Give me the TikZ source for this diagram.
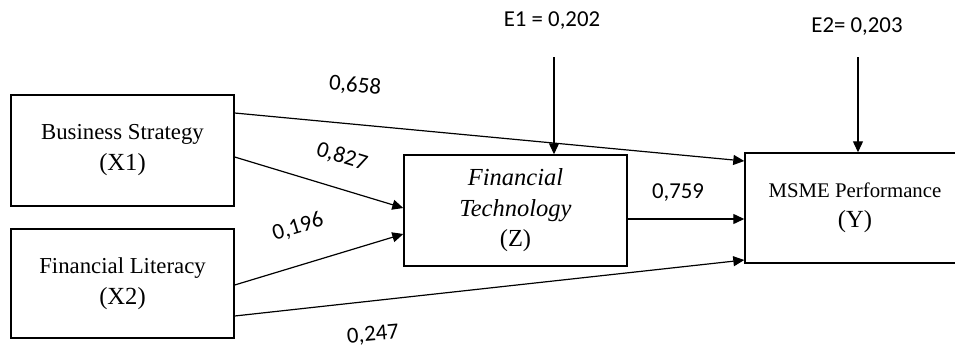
\documentclass[tikz,border=0pt]{standalone}
\usepackage{fontspec}
\setmainfont{Liberation Serif}
\newfontfamily\calib{Carlito}
\usetikzlibrary{calc}
\usetikzlibrary{arrows.meta}

\begin{document}
\begin{tikzpicture}[x=0.5pt,y=-0.5pt,
    var/.style={draw, line width=0.7pt, inner sep=0pt, align=center, font=\fontsize{11.4pt}{15.5pt}\selectfont},
    coef/.style={inner sep=0pt, font=\calib\fontsize{11.4pt}{13pt}\selectfont},
    link/.style={line width=0.6pt, -{Triangle[length=5.5pt,width=5pt]}}]
    \useasboundingbox (0,0) rectangle (955,349);
    %variables
    \node[var, minimum width=111.5pt, minimum height=55.5pt] (x1) at (122.5,150.5)
      {Business Strategy\\{\fontsize{12.3pt}{15.5pt}\selectfont (X1)}};
    \node[var, minimum width=111.5pt, minimum height=54.5pt] (x2) at (122.5,283.5)
      {Financial Literacy\\{\fontsize{12.3pt}{15.5pt}\selectfont (X2)}};
    \node[var, minimum width=111.5pt, minimum height=55.5pt, font=\fontsize{12.25pt}{15.25pt}\selectfont] (z) at (515.5,210.5)
      {\textit{Financial}\\\textit{Technology}\\(Z)};
    \node[var, minimum width=110pt, minimum height=55pt, font=\fontsize{10.4pt}{15pt}\selectfont] (y) at (855,208)
      {MSME Performance\\{\fontsize{12.3pt}{15pt}\selectfont (Y)}};
    %errors
    \node[coef] (e1) at (552,21) {E1 = 0,202};
    \node[coef] (e2) at (857,27) {E2= 0,203};
    \coordinate (e1a) at (554,57);
    \coordinate (e2a) at (858,57);
    \draw[link] (e1a) -- ($(z.north)+(38.5,0)$);
    \draw[link] (e2a) -- ($(y.north)+(3,0)$);
    %paths
    \draw[link] ($(x1.east)+(0,-37.5)$) -- ($(y.west)+(0,-47)$);
    \draw[link] ($(x1.east)+(0,6.5)$) -- ($(z.west)+(0,-2.5)$);
    \draw[link] ($(x2.east)+(0,1.5)$) -- ($(z.west)+(0,23.5)$);
    \draw[link] ($(x2.east)+(0,32.5)$) -- ($(y.west)+(0,52)$);
    \draw[link] ($(z.east)+(0,8.5)$) -- ($(y.west)+(0,11)$);
    %coefficients
    \node[coef, rotate=-5.4] (c658) at (355,86) {0,658};
    \node[coef, rotate=-16.7] (c827) at (342,157) {0,827};
    \node[coef, rotate=16.7] (c196) at (298,227) {0,196};
    \node[coef, rotate=5] (c247) at (373,335) {0,247};
    \node[coef] (c759) at (678,193) {0,759};
\end{tikzpicture}
\end{document}
